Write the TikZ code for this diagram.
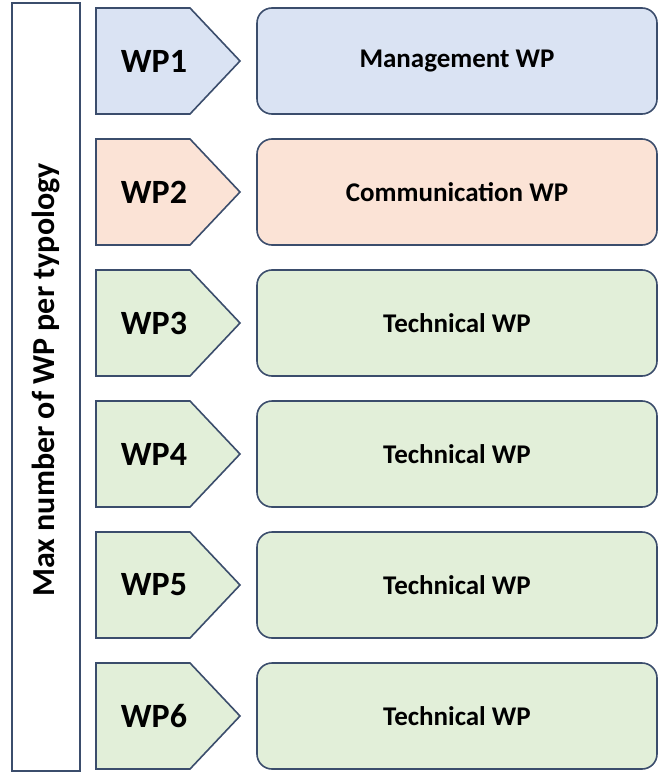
\documentclass[tikz,border=0pt]{standalone}
\usepackage{fontspec}
\setmainfont{Carlito}
\definecolor{edge}{HTML}{3B4D6C}
\definecolor{fblue}{HTML}{DAE3F3}
\definecolor{forange}{HTML}{FBE3D6}
\definecolor{fgreen}{HTML}{E2EFD9}
\tikzset{
  wpbox/.style={draw=edge, line width=1.6pt, rounded corners=15pt, minimum width=400pt, minimum height=106pt, inner sep=0pt, font=\bfseries\fontsize{27}{30}\selectfont},
  wptag/.style={inner sep=0pt, font=\bfseries\fontsize{34}{38}\selectfont, text=black},
  tagshape/.style={draw=edge, line width=1.6pt, line join=miter},
  sidebox/.style={draw=edge, line width=2pt, fill=white, minimum width=68pt, minimum height=768pt, inner sep=0pt},
  sidetext/.style={rotate=90, inner sep=0pt, font=\bfseries\fontsize{32}{36}\selectfont},
}
\begin{document}
\begin{tikzpicture}[x=1pt,y=-1pt]
\useasboundingbox (0,0) rectangle (658,773);
\node[sidebox] (side) at (46,387) {};
\node[sidetext] (sidelabel) at (46,380) {Max number of WP per typology};
\foreach \i/\col/\txt in {0/fblue/Management WP,1/forange/Communication WP,2/fgreen/Technical WP,3/fgreen/Technical WP,4/fgreen/Technical WP,5/fgreen/Technical WP}{
  \pgfmathsetmacro{\yc}{61+131*\i}
  \pgfmathtruncatemacro{\n}{\i+1}
  \draw[tagshape, fill=\col] (96,\yc-53) -- (190,\yc-53) -- (240,\yc) -- (190,\yc+53) -- (96,\yc+53) -- cycle;
  \node[wptag] (tag\n) at (154,\yc) {WP\n};
  \node[wpbox, fill=\col] (box\n) at (457,\yc) {\txt};
}
\end{tikzpicture}
\end{document}
